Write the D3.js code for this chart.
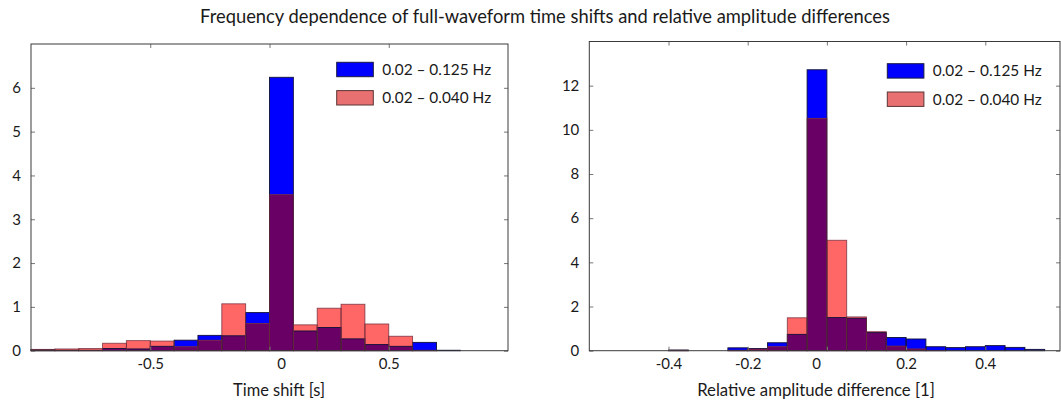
<!DOCTYPE html>
<html><head><meta charset="utf-8">
<script src="https://cdn.jsdelivr.net/npm/d3@7"></script>
<style>
body{margin:0;background:#fff}
svg{display:block}
text{font-family:Lato,"Open Sans","DejaVu Sans",sans-serif;fill:#1a1a1a}
</style></head><body>
<svg id="c" width="1061" height="402"></svg>
<script>
// ---------- data ----------
const title = "Frequency dependence of full-waveform time shifts and relative amplitude differences";
const seriesNames = ["0.02 – 0.125 Hz", "0.02 – 0.040 Hz"];

// Left panel: time shift histogram, bins of 0.1 s (start values)
const timeBinStarts = [-1.0,-0.9,-0.8,-0.7,-0.6,-0.5,-0.4,-0.3,-0.2,-0.1,0.0,0.1,0.2,0.3,0.4,0.5,0.6,0.7,0.8,0.9];
const timeBinWidth = 0.1;
const timeBroad  = [0.02,0.01,0.01,0.05,0.04,0.10,0.24,0.35,0.34,0.87,6.24,0.45,0.53,0.27,0.14,0.10,0.19,0.01,0,0];
const timeNarrow = [0.03,0.04,0.05,0.17,0.23,0.22,0.09,0.24,1.07,0.62,3.56,0.59,0.97,1.06,0.61,0.33,0.01,0,0,0];
const timeXTicks = [-0.5, 0, 0.5];
const timeYTicks = [0,1,2,3,4,5,6];

// Right panel: relative amplitude difference histogram, bins of 0.05
const ampBinStarts = [-0.6,-0.55,-0.5,-0.45,-0.4,-0.35,-0.3,-0.25,-0.2,-0.15,-0.1,-0.05,0.0,0.05,0.1,0.15,0.2,0.25,0.3,0.35,0.4,0.45,0.5,0.55];
const ampBinWidth = 0.05;
const ampBroad  = [0,0,0,0,0.03,0,0,0.13,0.10,0.36,0.74,12.72,1.50,1.47,0.82,0.60,0.53,0.18,0.14,0.18,0.23,0.15,0.06,0];
const ampNarrow = [0,0,0,0,0.02,0,0,0.02,0.07,0.18,1.49,10.52,5.00,1.53,0.86,0.21,0.08,0.01,0,0,0,0,0,0];
const ampXTicks = [-0.4,-0.2,0,0.2,0.4];
const ampYTicks = [0,2,4,6,8,10,12];

const xLabels = ["Time shift [s]", "Relative amplitude difference [1]"];

// ---------- drawing ----------
const svg = d3.select("#c");
const BLUE = "#0000ff", PINK = "#ff6666", PURPLE = "#690066";

function fitText(sel, target) {
  const w = sel.node().getComputedTextLength();
  const fs = parseFloat(sel.attr("font-size"));
  sel.attr("font-size", fs * target / w);
}

const t = svg.append("text").attr("x", 545).attr("y", 23).attr("text-anchor","middle")
  .attr("font-size", 16).text(title);
fitText(t, 690);

function panel(cfg) {
  const x = d3.scaleLinear().domain(cfg.xDomain).range(cfg.xRange);
  const y = d3.scaleLinear().domain(cfg.yDomain).range(cfg.yRange);
  const g = svg.append("g");
  const x0 = cfg.xRange[0], x1 = cfg.frameRight, yb = cfg.yRange[0], yt = cfg.yRange[1];

  const rows = cfg.starts.map((s,i) => ({s, e: s + cfg.width, b: cfg.broad[i], n: cfg.narrow[i]}));
  const rect = (sel, key) => sel.attr("x", d => x(d.s)).attr("width", d => x(d.e) - x(d.s))
      .attr("y", d => y(key(d))).attr("height", d => y(0) - y(key(d)));

  rect(g.selectAll(".b").data(rows.filter(d => d.b > 0)).join("rect"), d => d.b).attr("fill", BLUE);
  rect(g.selectAll(".n").data(rows.filter(d => d.n > 0)).join("rect"), d => d.n).attr("fill", PINK);
  rect(g.selectAll(".o").data(rows.filter(d => Math.min(d.b,d.n) > 0)).join("rect"), d => Math.min(d.b,d.n)).attr("fill", PURPLE);
  rect(g.selectAll(".bs").data(rows.filter(d => d.b > 0)).join("rect"), d => d.b)
      .attr("fill","none").attr("stroke","#10103a").attr("stroke-width",0.9);
  rect(g.selectAll(".ns").data(rows.filter(d => d.n > 0)).join("rect"), d => d.n)
      .attr("fill","none").attr("stroke","#6e2a3a").attr("stroke-width",0.9).attr("stroke-opacity",0.8);

  const fmt = d => String(d);
  const bottom = g.append("g").attr("transform", `translate(0,${yb})`)
    .call(d3.axisBottom(x).tickValues(cfg.xTicks).tickSizeInner(-4).tickSizeOuter(0).tickPadding(8).tickFormat(fmt));
  bottom.selectAll(".tick").filter(d => d === 0).select("text").attr("dx", cfg.zeroDx);
  const left = g.append("g").attr("transform", `translate(${x0},0)`)
    .call(d3.axisLeft(y).tickValues(cfg.yTicks).tickSizeInner(-4).tickSizeOuter(0).tickPadding(10).tickFormat(fmt));
  g.append("g").attr("transform", `translate(0,${yt})`)
    .call(d3.axisTop(x).tickValues(cfg.xTicks).tickSizeInner(-4).tickSizeOuter(0).tickFormat(""));
  g.append("g").attr("transform", `translate(${x1},0)`)
    .call(d3.axisRight(y).tickValues(cfg.yTicks).tickSizeInner(-4).tickSizeOuter(0).tickFormat(""));
  g.selectAll(".domain").remove();
  g.selectAll(".tick line").attr("stroke", "#777");
  g.selectAll(".tick text").attr("font-size", 15).attr("font-family", "Lato,'Open Sans',sans-serif").attr("fill", "#1a1a1a");

  g.append("rect").attr("x", x0).attr("y", yt).attr("width", x1 - x0).attr("height", yb - yt)
    .attr("fill","none").attr("stroke","#3a3a3a").attr("stroke-width",1);

  const xl = g.append("text").attr("x", cfg.xLabelX).attr("y", 396).attr("text-anchor","middle")
    .attr("font-size", 16).text(cfg.xLabel);
  fitText(xl, cfg.xLabelW);

  // legend
  const lg = g.append("g");
  const fills = [BLUE, "#e87070"], strokes = ["#1a1a40", "#5a3535"];
  seriesNames.forEach((nm, i) => {
    lg.append("rect").attr("x", cfg.legX).attr("y", cfg.legY + i*28.3).attr("width", 36.6).attr("height", 14.4)
      .attr("fill", fills[i]).attr("stroke", strokes[i]).attr("stroke-width", 1);
    const tx = lg.append("text").attr("x", cfg.legX + 45.5).attr("y", cfg.legY + 7.2 + i*28.3)
      .attr("dy","0.35em").attr("font-size", 16).text(nm);
    fitText(tx, 109);
  });
}

panel({xDomain:[-1,1], xRange:[31,508], frameRight:508, yDomain:[0,7], yRange:[350.7,44],
  starts: timeBinStarts, width: timeBinWidth, broad: timeBroad, narrow: timeNarrow,
  xTicks: timeXTicks, yTicks: timeYTicks, zeroDx: 11.5, xLabel: xLabels[0], xLabelX: 279, xLabelW: 92,
  legX: 336.7, legY: 62.3});
panel({xDomain:[-0.6,0.6], xRange:[589.3,1064.5], frameRight:1060, yDomain:[0,14], yRange:[350.7,41.5],
  starts: ampBinStarts, width: ampBinWidth, broad: ampBroad, narrow: ampNarrow,
  xTicks: ampXTicks, yTicks: ampYTicks, zeroDx: -10.7, xLabel: xLabels[1], xLabelX: 816, xLabelW: 238,
  legX: 887.3, legY: 63.7});
</script>
</body></html>
